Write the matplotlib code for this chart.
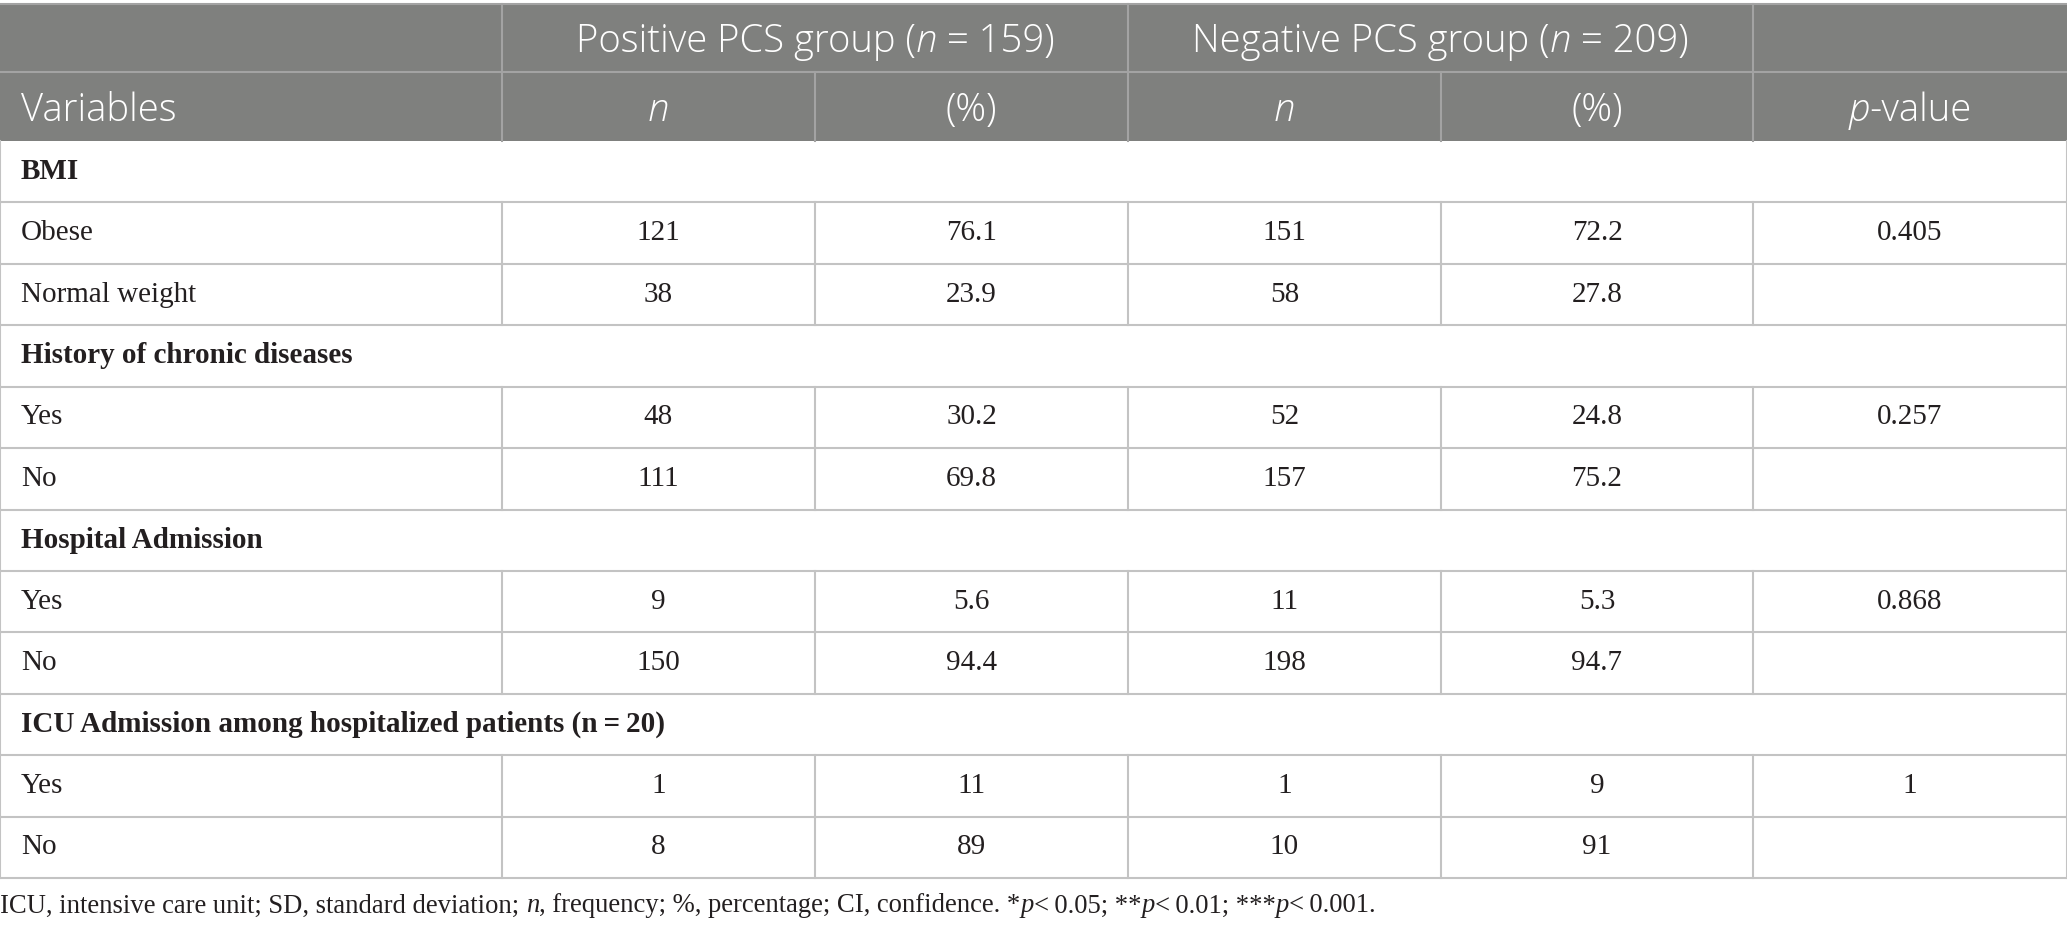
import matplotlib
matplotlib.use("Agg")
import matplotlib.pyplot as plt
from matplotlib.offsetbox import TextArea, HPacker, AnnotationBbox

# ---------------- data ----------------
sections = ["BMI", "History of chronic diseases", "Hospital Admission",
            "ICU Admission among hospitalized patients (n\u2009=\u200920)"]
row_labels = [["Obese", "Normal weight"], ["Yes", "No"], ["Yes", "No"], ["Yes", "No"]]
pos_n = ["121", "38", "48", "111", "9", "150", "1", "8"]
pos_pct = ["76.1", "23.9", "30.2", "69.8", "5.6", "94.4", "11", "89"]
neg_n = ["151", "58", "52", "157", "11", "198", "1", "10"]
neg_pct = ["72.2", "27.8", "24.8", "75.2", "5.3", "94.7", "9", "91"]
p_values = ["0.405", "", "0.257", "", "0.868", "", "1", ""]
pos_total = "159"
neg_total = "209"

# ---------------- layout ----------------
W, H = 2067, 932
fig = plt.figure(figsize=(W / 100, H / 100), dpi=100)
ax = fig.add_axes([0, 0, 1, 1])
ax.set_xlim(0, W)
ax.set_ylim(H, 0)
ax.axis("off")

col_edges = [0, 502, 815, 1128, 1441, 1753, W]
head_top, head_mid, head_bot = 4, 72, 141
row_h = (878 - 141) / 12.0

HEAD_BG = "#7f807e"
HEAD_LINE = "#a3a3a3"
BODY_LINE = "#c3c3c3"
TXT = "#231f20"

SANS = "Open Sans"
SERIF = "Liberation Serif"
HFS = 27.5
BFS = 21
FFS = 19.2


def rich(x, y, parts, ha="center", color="white"):
    children = []
    for s, props in parts:
        tp = dict(color=color)
        tp.update(props)
        children.append(TextArea(s, textprops=tp))
    box = HPacker(children=children, align="baseline", pad=0, sep=0)
    ab = AnnotationBbox(box, (x, y), xycoords="data", frameon=False,
                        box_alignment=(0.5 if ha == "center" else 0.0, 0.5), pad=0)
    ax.add_artist(ab)


# header background
ax.add_patch(plt.Rectangle((0, head_top), W, head_bot - head_top, color=HEAD_BG, lw=0, zorder=0))
# header lines
ax.plot([0, W], [head_top, head_top], color=HEAD_LINE, lw=1.5)
ax.plot([0, W], [head_mid, head_mid], color=HEAD_LINE, lw=1.5)
for x in [col_edges[1], col_edges[3], col_edges[5]]:
    ax.plot([x, x], [head_top, head_mid], color=HEAD_LINE, lw=1.5)
for x in col_edges[1:-1]:
    ax.plot([x, x], [head_mid, head_bot], color=HEAD_LINE, lw=1.5)

# header texts
hs = dict(family=SANS, size=HFS, weight=300)
hi = dict(family=SANS, size=HFS, style="italic", weight=300)
rich((col_edges[1] + col_edges[3]) / 2, (head_top + head_mid) / 2 + 4,
     [("Positive PCS group (", hs), ("n", hi), (" = " + pos_total + ")", hs)])
rich((col_edges[3] + col_edges[5]) / 2, (head_top + head_mid) / 2 + 4,
     [("Negative PCS group (", hs), ("n", hi), (" = " + neg_total + ")", hs)])
y2 = (head_mid + head_bot) / 2 + 4
rich(21, y2, [("Variables", hs)], ha="left")
rich((col_edges[1] + col_edges[2]) / 2, y2, [("n", hi)])
rich((col_edges[2] + col_edges[3]) / 2, y2, [("(%)", hs)])
rich((col_edges[3] + col_edges[4]) / 2, y2, [("n", hi)])
rich((col_edges[4] + col_edges[5]) / 2, y2, [("(%)", hs)])
rich((col_edges[5] + col_edges[6]) / 2, y2, [("p", hi), ("-value", hs)])

# body
y = head_bot
k = 0
for si, sec in enumerate(sections):
    top = y
    bot = y + row_h
    ax.text(21, (top + bot) / 2, sec, family=SERIF, size=BFS, weight="bold",
            color=TXT, ha="left", va="center")
    ax.plot([0, 0], [top, bot], color=BODY_LINE, lw=1.5)
    ax.plot([W, W], [top, bot], color=BODY_LINE, lw=1.5)
    ax.plot([0, W], [bot, bot], color=BODY_LINE, lw=1.5)
    y = bot
    for lab in row_labels[si]:
        top = y
        bot = y + row_h
        cy = (top + bot) / 2
        ax.text(21, cy, lab, family=SERIF, size=BFS, color=TXT, ha="left", va="center")
        vals = [pos_n[k], pos_pct[k], neg_n[k], neg_pct[k], p_values[k]]
        for ci, v in enumerate(vals):
            cx = (col_edges[ci + 1] + col_edges[ci + 2]) / 2
            ax.text(cx, cy, v, family=SERIF, size=BFS, color=TXT, ha="center", va="center")
        for x in col_edges:
            ax.plot([x, x], [top, bot], color=BODY_LINE, lw=1.5)
        ax.plot([0, W], [bot, bot], color=BODY_LINE, lw=1.5)
        y = bot
        k += 1

# footnote
fs = dict(family=SERIF, size=FFS)
fi = dict(family=SERIF, size=FFS, style="italic")
rich(0, 906, [("ICU, intensive care unit; SD, standard deviation; ", fs), ("n", fi),
              (", frequency; %, percentage; CI, confidence. *", fs), ("p", fi),
              ("<\u20090.05; **", fs), ("p", fi), ("<\u20090.01; ***", fs), ("p", fi),
              ("<\u20090.001.", fs)], ha="left", color=TXT)

fig.savefig("out.png", dpi=100)
